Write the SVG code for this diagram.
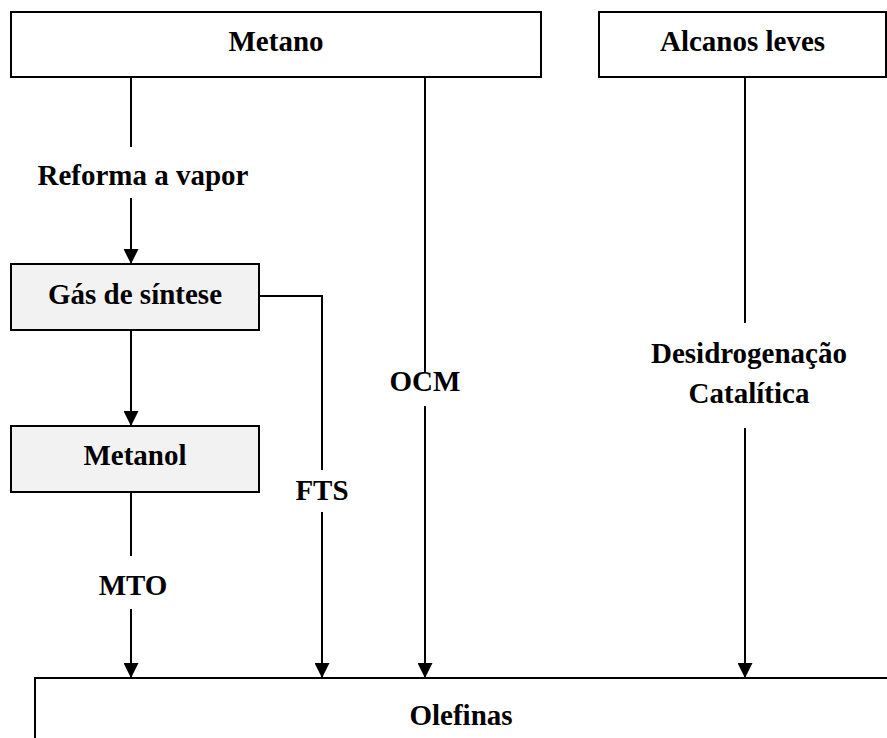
<svg xmlns="http://www.w3.org/2000/svg" width="887" height="738" viewBox="0 0 887 738">
<defs>
<style>
.box{stroke:#000;stroke-width:2}
.w{fill:#fff}
.g{fill:#f2f2f2}
.t{font-family:"Liberation Serif","Times New Roman",serif;font-weight:bold;font-size:29px;fill:#000;text-anchor:middle}
.c{fill:none;stroke:#000;stroke-width:2}
</style>
<marker id="ah" markerWidth="15" markerHeight="15" viewBox="0 0 15 15" refX="15" refY="7.5" orient="auto" markerUnits="userSpaceOnUse">
<path d="M0,0 L15,7.5 L0,15 Z" fill="#000"/>
</marker>
</defs>
<rect width="887" height="738" fill="#fff"/>
<g id="metano"><rect class="box w" x="11" y="12" width="530" height="65"/><text class="t" x="276" y="51">Metano</text></g>
<g id="alcanos"><rect class="box w" x="599" y="12" width="287" height="65"/><text class="t" x="742.5" y="51">Alcanos leves</text></g>
<g id="gas"><rect class="box g" x="11" y="264" width="248" height="66"/><text class="t" x="135" y="304">Gás de síntese</text></g>
<g id="metanol"><rect class="box g" x="11" y="426" width="248" height="66"/><text class="t" x="135" y="465">Metanol</text></g>
<g id="olefinas"><rect class="box w" x="35" y="678" width="900" height="100"/><text class="t" x="461" y="725">Olefinas</text></g>
<g id="connectors">
<path class="c" d="M131,77 V147"/>
<path class="c" d="M131,198 V264" marker-end="url(#ah)"/>
<path class="c" d="M131,330 V426" marker-end="url(#ah)"/>
<path class="c" d="M131,492 V556"/>
<path class="c" d="M131,609 V678" marker-end="url(#ah)"/>
<path class="c" d="M259,296 H322 V470"/>
<path class="c" d="M322,512 V678" marker-end="url(#ah)"/>
<path class="c" d="M425,77 V373"/>
<path class="c" d="M425,406 V678" marker-end="url(#ah)"/>
<path class="c" d="M745,77 V323"/>
<path class="c" d="M745,428 V678" marker-end="url(#ah)"/>
</g>
<g id="labels">
<text class="t" x="143" y="185">Reforma a vapor</text>
<text class="t" x="133" y="595">MTO</text>
<text class="t" x="322" y="500">FTS</text>
<text class="t" x="425" y="391">OCM</text>
<text class="t" x="749" y="363">Desidrogenação</text>
<text class="t" x="749" y="403">Catalítica</text>
</g>
</svg>
